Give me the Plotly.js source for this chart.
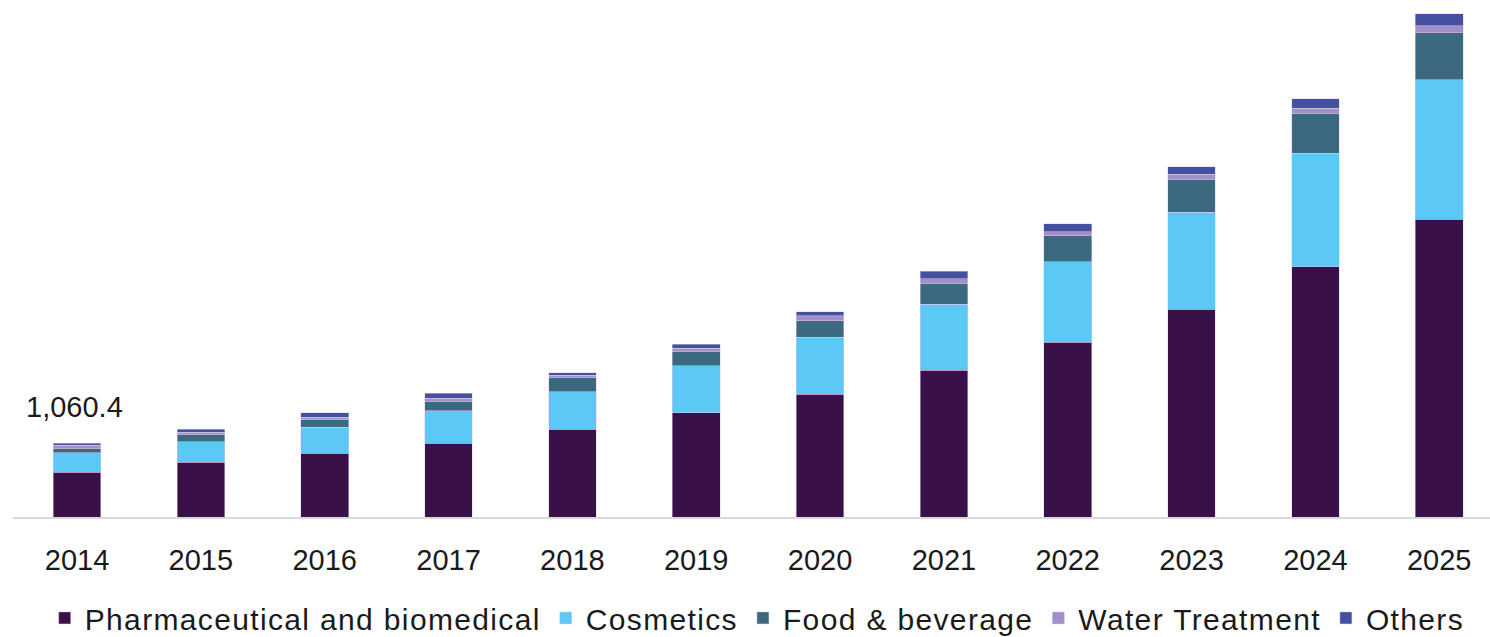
<!DOCTYPE html>
<html>
<head>
<meta charset="utf-8">
<script src="https://cdn.plot.ly/plotly-3.0.1.min.js"></script>
<style>html,body{margin:0;padding:0;background:#fff;}#chart{width:1490px;height:637px;}
.legendtext{letter-spacing:1.35px;}</style>
</head>
<body>
<div id="chart"></div>
<script>
var years = ['2014','2015','2016','2017','2018','2019','2020','2021','2022','2023','2024','2025'];
var pharma   = [647.5, 787, 921, 1060, 1262, 1501, 1770, 2111, 2518, 2993, 3602, 4284];
var cosmetics= [277.6, 299, 370, 469, 541, 676, 816, 950, 1156, 1396, 1632, 2005];
var food     = [67.6, 104, 105, 140, 207, 207, 235, 302, 370, 471, 576, 681];
var water    = [38.9, 33, 39, 39, 33, 43, 72, 66, 62, 72, 72, 101];
var others   = [28.8, 39, 66, 72, 33, 58, 62, 111, 111, 109, 138, 168];
var seriesNames = ['Pharmaceutical and biomedical','Cosmetics','Food & beverage','Water Treatment','Others'];
var colors = ['#3a1048','#5bc8f5','#3b6a80','#a490c8','#4650a0'];
var annotationText = '1,060.4';

var series = [pharma, cosmetics, food, water, others];
var traces = series.map(function(v, i){
  return {
    type: 'bar', x: years, y: v, name: seriesNames[i],
    width: 0.385,
    marker: {color: colors[i], line: {color: 'rgba(220,205,235,0.8)', width: 0.6}},
    hoverinfo: 'x+y+name'
  };
});

var total2014 = pharma[0] + cosmetics[0] + food[0] + water[0] + others[0];

var layout = {
  width: 1490, height: 637,
  barmode: 'stack',
  paper_bgcolor: '#ffffff', plot_bgcolor: '#ffffff',
  margin: {l: 13, r: 0, t: 0, b: 120},
  font: {family: 'Liberation Sans, Arial, sans-serif', color: '#1a1a1a'},
  xaxis: {
    type: 'category', range: [-0.517, 11.41],
    showline: true, linecolor: '#d9d9d9', linewidth: 2,
    showgrid: false, zeroline: false, ticks: '',
    ticklabelstandoff: 16,
    tickfont: {size: 29, color: '#1a1a1a', family: 'Liberation Sans, Arial, sans-serif'}
  },
  yaxis: {
    range: [0, 7440], showticklabels: false, showgrid: false, zeroline: false, showline: false, ticks: ''
  },
  showlegend: true,
  legend: {
    orientation: 'h', xref: 'container', yref: 'container',
    x: 0.03, xanchor: 'left', y: 0.03, yanchor: 'middle',
    font: {size: 30, color: '#1a1a1a', family: 'Liberation Sans, Arial, sans-serif'},
    itemwidth: 30, tracegroupgap: 0, traceorder: 'normal',
    bgcolor: 'rgba(0,0,0,0)'
  },
  annotations: [{
    x: years.indexOf('2014'), y: total2014,
    xref: 'x', yref: 'y', text: annotationText, showarrow: false,
    xanchor: 'center', yanchor: 'middle', xshift: -3, yshift: 36,
    font: {size: 29, color: '#1a1a1a', family: 'Liberation Sans, Arial, sans-serif'}
  }]
};

Plotly.newPlot('chart', traces, layout, {displayModeBar: false, staticPlot: true});
</script>
</body>
</html>
